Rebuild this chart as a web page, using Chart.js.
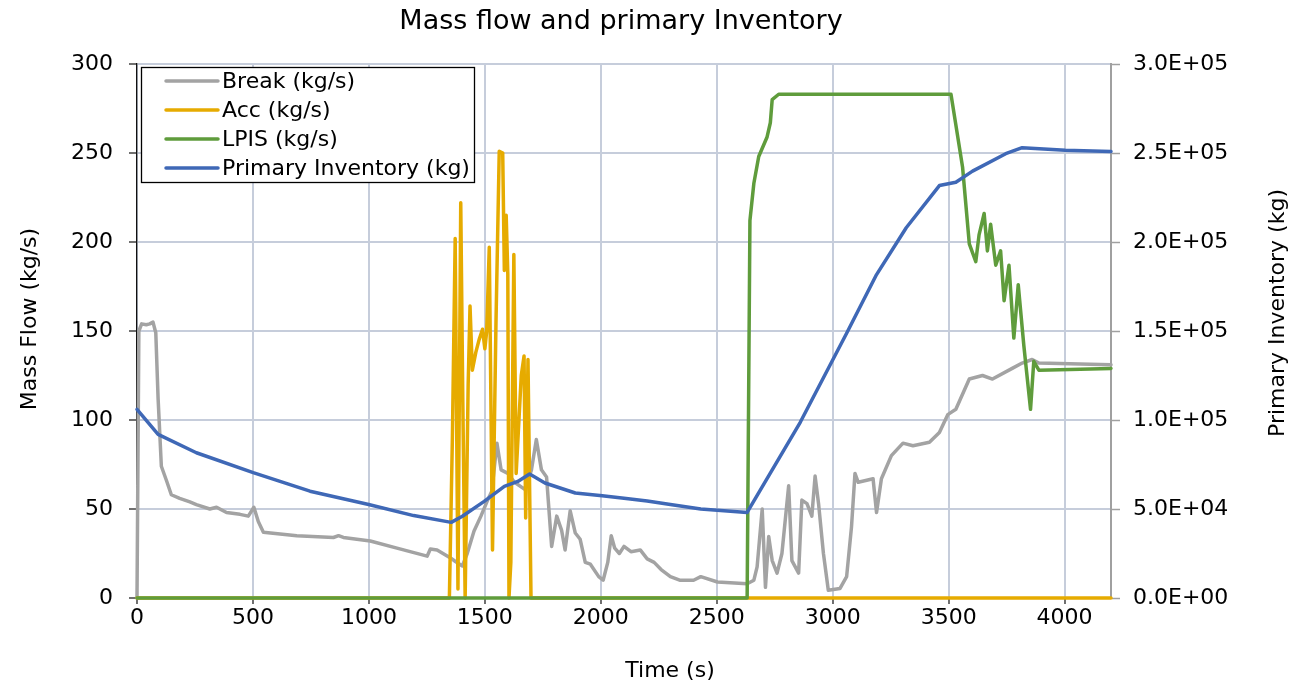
<!DOCTYPE html>
<html>
<head>
<meta charset="utf-8">
<script src="https://cdn.jsdelivr.net/npm/chart.js@4"></script>
<style>
html,body{margin:0;padding:0;background:#fff;}
canvas{display:block;}
</style>
</head>
<body>
<canvas id="c" width="1303" height="686"></canvas>
<script>
// ---- data ----
const breakT = [0,8,20,40,55,69,81,91,105,127,148,184,228,256,314,343,386,444,480,504,523,545,689,847,869,890,1006,1121,1251,1265,1294,1352,1373,1403,1424,1453,1483,1512,1530,1552,1570,1599,1628,1672,1701,1722,1744,1766,1788,1810,1831,1846,1868,1890,1911,1933,1955,1991,2010,2030,2045,2060,2080,2100,2130,2170,2200,2230,2260,2300,2340,2400,2431,2503,2631,2660,2674,2696,2710,2724,2739,2760,2781,2810,2824,2853,2867,2889,2910,2924,2939,2960,2981,3031,3060,3081,3096,3110,3174,3189,3210,3253,3303,3346,3417,3460,3496,3531,3589,3646,3689,3774,3817,3860,3889,4200];
const breakV = [0,150,154,153.5,154,155,149,112,74,66,58,56,54,52.5,50,51,48,47,46,51,43,37,35,34,35,34,32,28,23.5,27.5,27,22.5,20.5,18,25,37.5,46,55,60,87,72,70,65,61,72,89,72,68,29,46,38,27,49,36.5,33,20,19,12,10,20,35,28,25,29,26,27,22,20,16,12,10,10,12,9,8,10,17.5,50,6,34.5,21,14,25,63,21,14,55,53,46,68.5,53,25,4.3,5.3,12,40,70,65,67,48,67,80,87,85.5,87.5,93,103,106,123,125,123,129,132,134,132,131];

const accT = [0,1347,1360,1372,1384,1396,1405,1415,1428,1436,1446,1461,1475,1490,1500,1508,1519,1533,1548,1562,1577,1584,1592,1599,1604,1612,1625,1635,1657,1669,1676,1686,1699,4200];
const accV = [0,0,90,202,5,222,110,0,120,164,128,138,145,151,140,150,197,27,155,251,250,184,215,182,0,20,193,70,125,136,45,134,0,0];

const lpisT = [0,2631,2643,2660,2681,2717,2731,2739,2767,3510,3560,3589,3617,3631,3653,3667,3681,3703,3724,3739,3760,3781,3800,3824,3853,3867,3889,4200];
const lpisV = [0,0,212,233,248,259,267,280,283,283,242,199,189,204,216,195,210,187,195,167,187,146,176,142,106,133,128,129];

const invT = [0,91,256,501,746,999,1193,1355,1403,1497,1584,1642,1693,1759,1890,2006,2100,2200,2300,2431,2631,2860,3060,3189,3317,3460,3531,3603,3746,3817,4003,4200];
const invV = [106000,91900,81600,70400,60000,52500,46300,42500,45900,54300,62700,65500,69700,64600,59000,57500,56000,54500,52500,50000,48100,98700,148700,181700,208000,231700,233600,239800,249600,253000,251500,250800];

const seriesNames = ['Break (kg/s)','Acc (kg/s)','LPIS (kg/s)','Primary Inventory (kg)'];
const xTicks = [0,500,1000,1500,2000,2500,3000,3500,4000];
const yLeftTicks = [0,50,100,150,200,250,300];
const yRightTicks = [0,50000,100000,150000,200000,250000,300000];

const chartTitle = 'Mass flow and primary Inventory';
const xTitle = 'Time (s)';
const yLeftTitle = 'Mass Flow (kg/s)';
const yRightTitle = 'Primary Inventory (kg)';

// ---- build ----
const pts = (t, v) => t.map((x, i) => ({x: x, y: v[i]}));
const FONT = 'DejaVu Sans';
const GRID = '#c6cddb';

function sci(v) {
  const s = Number(v).toExponential(1); // e.g. 3.0e+5
  const m = s.split('e');
  const sign = m[1][0] === '-' ? '-' : '+';
  const ex = m[1].replace(/[+-]/, '').padStart(2, '0');
  return m[0] + 'E' + sign + ex;
}

const textPlugin = {
  id: 'texts',
  afterDraw(chart) {
    const ctx = chart.ctx;
    ctx.save();
    ctx.fillStyle = '#000';
    // title
    ctx.font = '27px "' + FONT + '"';
    ctx.textAlign = 'center';
    ctx.textBaseline = 'alphabetic';
    ctx.fillText(chartTitle, 621, 29);
    // x title
    ctx.font = '22px "' + FONT + '"';
    ctx.fillText(xTitle, 670, 677);
    // left y title
    ctx.save();
    ctx.translate(36, 319);
    ctx.rotate(-Math.PI / 2);
    ctx.fillText(yLeftTitle, 0, 0);
    ctx.restore();
    // right y title
    ctx.save();
    ctx.translate(1284, 313);
    ctx.rotate(-Math.PI / 2);
    ctx.fillText(yRightTitle, 0, 0);
    ctx.restore();
    // legend
    const lx = 141, ly = 67, lw = 333, lh = 115;
    ctx.fillStyle = '#fff';
    ctx.fillRect(lx, ly, lw, lh);
    ctx.strokeStyle = '#000';
    ctx.lineWidth = 1.3;
    ctx.strokeRect(lx + 0.5, ly + 0.5, lw, lh);
    ctx.font = '22px "' + FONT + '"';
    ctx.textAlign = 'left';
    ctx.textBaseline = 'middle';
    chart.data.datasets.forEach((ds, i) => {
      const y = 81 + i * 29;
      ctx.strokeStyle = ds.borderColor;
      ctx.lineWidth = 3.5;
      ctx.lineCap = 'round';
      ctx.beginPath();
      ctx.moveTo(166, y);
      ctx.lineTo(218, y);
      ctx.stroke();
      ctx.fillStyle = '#000';
      ctx.fillText(ds.label, 222, y + 1);
    });
    ctx.restore();
  }
};

new Chart(document.getElementById('c'), {
  type: 'line',
  data: {
    datasets: [
      {label: seriesNames[0], data: pts(breakT, breakV), borderColor: '#a3a3a3', yAxisID: 'y', order: 4},
      {label: seriesNames[1], data: pts(accT, accV), borderColor: '#e6ab00', yAxisID: 'y', order: 3},
      {label: seriesNames[2], data: pts(lpisT, lpisV), borderColor: '#5f9c3c', yAxisID: 'y', order: 2},
      {label: seriesNames[3], data: pts(invT, invV), borderColor: '#3f68b6', yAxisID: 'y2', order: 1}
    ]
  },
  options: {
    responsive: false,
    animation: false,
    events: [],
    layout: {padding: {top: 64, left: 0, right: 0, bottom: 0}},
    datasets: {line: {clip: 8}},
    elements: {
      point: {radius: 0},
      line: {tension: 0, borderWidth: 3.5, fill: false, borderJoinStyle: 'round', borderCapStyle: 'round'}
    },
    plugins: {
      legend: {display: false},
      title: {display: false},
      tooltip: {enabled: false}
    },
    scales: {
      x: {
        type: 'linear', position: 'bottom', min: 0, max: 4200,
        afterBuildTicks: s => { s.ticks = xTicks.map(v => ({value: v})); },
        afterFit: s => { s.height = 88; },
        ticks: {font: {family: FONT, size: 22, lineHeight: 1}, color: '#000', padding: 3, maxRotation: 0, autoSkip: false, callback: v => String(v)},
        grid: {color: GRID, lineWidth: 2, tickLength: 6, tickColor: '#222', tickWidth: 1.3},
        border: {color: '#333', width: 1.3}
      },
      y: {
        type: 'linear', position: 'left', min: 0, max: 300,
        afterBuildTicks: s => { s.ticks = yLeftTicks.map(v => ({value: v})); },
        afterFit: s => { s.width = 137; },
        ticks: {font: {family: FONT, size: 22}, color: '#000', padding: 16, callback: v => String(v)},
        grid: {color: GRID, lineWidth: 2, tickLength: 8, tickColor: '#222', tickWidth: 1.3},
        border: {color: '#111', width: 1.3}
      },
      y2: {
        type: 'linear', position: 'right', min: 0, max: 300000,
        afterBuildTicks: s => { s.ticks = yRightTicks.map(v => ({value: v})); },
        afterFit: s => { s.width = 192; },
        ticks: {font: {family: FONT, size: 22}, color: '#000', padding: 13, callback: v => sci(v)},
        grid: {drawOnChartArea: false, tickLength: 9, tickColor: '#a0a0a0', tickWidth: 1.5},
        border: {color: '#a0a0a0', width: 2}
      }
    }
  },
  plugins: [textPlugin]
});
</script>
</body>
</html>
